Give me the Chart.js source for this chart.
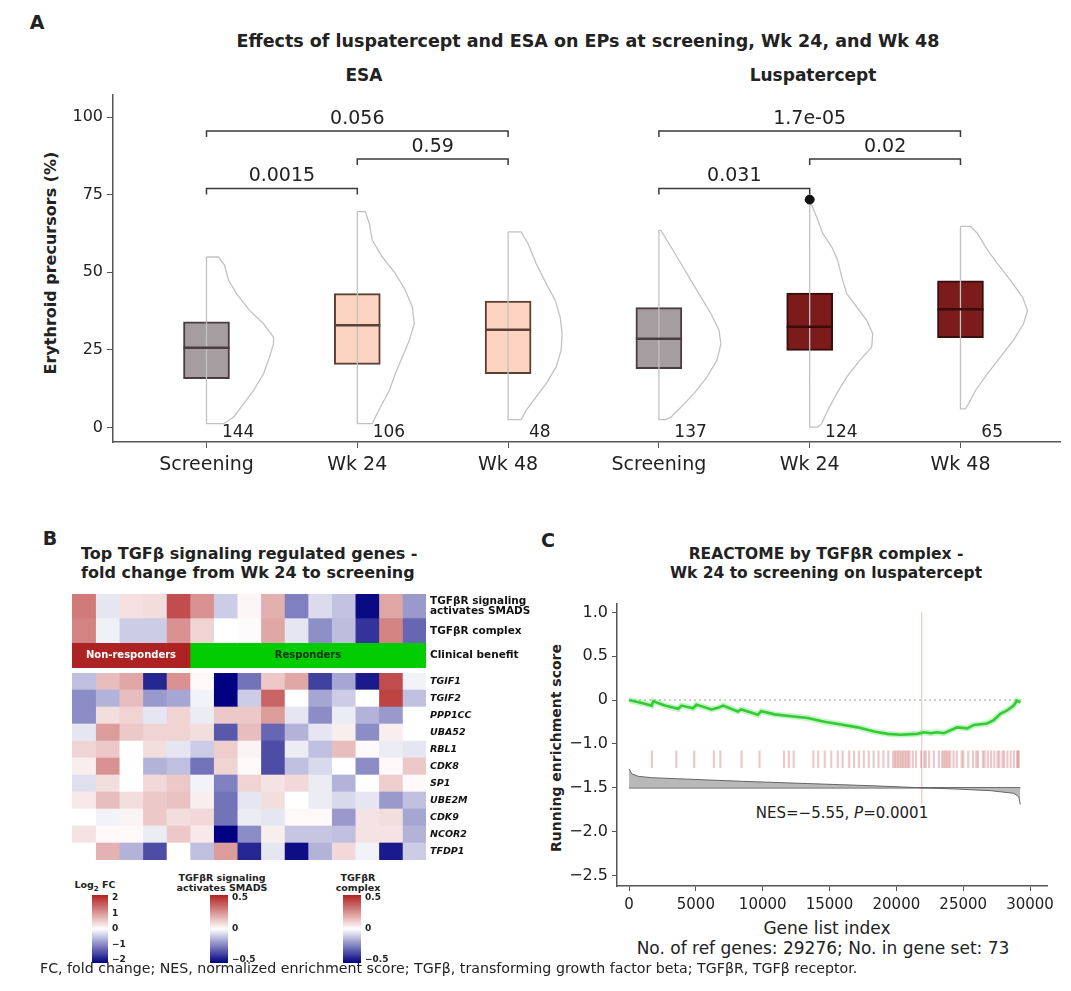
<!DOCTYPE html>
<html>
<head>
<meta charset="utf-8">
<script src="https://cdn.jsdelivr.net/npm/chart.js@4.4.1/dist/chart.umd.min.js"></script>
<style>
  body { margin: 0; background: #fff; width: 1071px; height: 991px; position: relative; overflow: hidden;
         font-family: "DejaVu Sans", sans-serif; color: #222; }
  canvas { position: absolute; }
  .t { position: absolute; white-space: nowrap; transform: translate(-50%, -50%); }
  .l { position: absolute; white-space: nowrap; }
  .b { font-weight: bold; }
</style>
</head>
<body>
<!-- panel A texts -->
<div class="t b" style="left:37px;top:22px;font-size:19px">A</div>
<div class="t b" style="left:588px;top:41px;font-size:17.5px">Effects of luspatercept and ESA on EPs at screening, Wk 24, and Wk 48</div>
<div class="t b" style="left:364px;top:75px;font-size:17px">ESA</div>
<div class="t b" style="left:813px;top:75px;font-size:17px">Luspatercept</div>
<div class="t b" style="left:50px;top:263px;font-size:16px;transform:translate(-50%,-50%) rotate(-90deg)">Erythroid precursors (%)</div>
<canvas id="chartA" width="1071" height="490" style="left:0;top:0"></canvas>

<!-- panel B texts -->
<div class="t b" style="left:50px;top:538px;font-size:19px">B</div>
<div class="l b" style="left:81px;top:544px;font-size:16px;line-height:19px">Top TGFβ signaling regulated genes -<br>fold change from Wk 24 to screening</div>
<canvas id="chartAnno" width="470" height="74" style="left:72px;top:594px"></canvas>
<canvas id="chartGenes" width="470" height="187" style="left:72px;top:673px"></canvas>
<div class="t b" style="left:95px;top:886px;font-size:9.5px">Log<sub style="font-size:7px">2</sub> FC</div>
<div class="t b" style="left:222px;top:882px;font-size:9.5px;line-height:9.5px;text-align:center">TGFβR signaling<br>activates SMADS</div>
<div class="t b" style="left:358px;top:882px;font-size:9.5px;line-height:9.5px;text-align:center">TGFβR<br>complex</div>
<canvas id="legFc" width="40" height="78" style="left:92px;top:890px"></canvas>
<canvas id="legSmads" width="50" height="78" style="left:210px;top:890px"></canvas>
<canvas id="legComplex" width="50" height="78" style="left:343px;top:890px"></canvas>

<!-- panel C texts -->
<div class="t b" style="left:548px;top:540px;font-size:19px">C</div>
<div class="t b" style="left:826px;top:564px;font-size:15.5px;line-height:19px;text-align:center">REACTOME by TGFβR complex -<br>Wk 24 to screening on luspatercept</div>
<div class="t b" style="left:556px;top:748px;font-size:14px;transform:translate(-50%,-50%) rotate(-90deg)">Running enrichment score</div>
<div class="t" style="left:842px;top:813px;font-size:15px">NES=−5.55, <i>P</i>=0.0001</div>
<div class="t" style="left:827px;top:928px;font-size:17px">Gene list index</div>
<div class="t" style="left:823px;top:948px;font-size:17px">No. of ref genes: 29276; No. in gene set: 73</div>
<canvas id="chartC" width="531" height="340" style="left:540px;top:590px"></canvas>

<div class="l" style="left:40px;top:960px;font-size:14.2px">FC, fold change; NES, normalized enrichment score; TGFβ, transforming growth factor beta; TGFβR, TGFβ receptor.</div>

<script>
// ---------- panel A data ----------
const timepoints = ['Screening', 'Wk 24', 'Wk 48', 'Screening', 'Wk 24', 'Wk 48'];
const q1 = [15.7, 20.3, 17.3, 18.9, 24.8, 28.9];
const medians = [25.7, 32.9, 31.5, 28.6, 32.4, 38.1];
const q3 = [34.0, 43.1, 40.7, 38.6, 43.3, 47.2];
const nPatients = [144, 106, 48, 137, 124, 65];
const outlierGroup = [4];
const outlierValue = [73.4];
const yTicksA = [0, 25, 50, 75, 100];

// half-violin outlines: value levels and relative density width
const violinLevels = [
  [54.9, 52.3, 47.4, 43.1, 37.7, 33.4, 29.1, 27.0, 22.7, 17.3, 11.9, 7.6, 3.3, 1.2],
  [69.5, 65.7, 60.3, 54.9, 49.6, 44.2, 38.8, 33.4, 28.1, 22.7, 17.3, 11.9, 6.5, 3.3, 1.2],
  [63.0, 59.2, 52.8, 46.4, 41.0, 35.6, 30.2, 24.8, 19.5, 14.1, 9.8, 5.5, 2.5],
  [63.5, 58.2, 52.8, 47.4, 42.0, 36.7, 31.3, 27.0, 21.6, 16.2, 10.9, 6.5, 3.3, 2.5],
  [71.6, 67.8, 62.5, 58.2, 53.9, 48.5, 43.1, 38.8, 34.5, 30.2, 25.9, 21.6, 16.2, 10.9, 5.5, 1.2, 0.1],
  [64.8, 62.5, 57.1, 52.8, 47.4, 42.0, 37.7, 33.4, 28.1, 22.7, 17.3, 11.9, 7.6, 6.0]
];
const violinDensity = [
  [0.12, 0.18, 0.22, 0.30, 0.43, 0.57, 0.67, 0.67, 0.63, 0.57, 0.47, 0.37, 0.27, 0.17],
  [0.08, 0.12, 0.15, 0.25, 0.38, 0.48, 0.55, 0.57, 0.52, 0.45, 0.38, 0.32, 0.23, 0.18, 0.15],
  [0.13, 0.20, 0.28, 0.38, 0.47, 0.52, 0.54, 0.53, 0.48, 0.38, 0.28, 0.18, 0.13],
  [0.02, 0.12, 0.22, 0.32, 0.42, 0.52, 0.60, 0.62, 0.58, 0.48, 0.35, 0.22, 0.12, 0.07],
  [0.02, 0.07, 0.13, 0.22, 0.28, 0.32, 0.37, 0.47, 0.57, 0.63, 0.62, 0.50, 0.37, 0.27, 0.18, 0.12, 0.08],
  [0.10, 0.17, 0.27, 0.37, 0.50, 0.62, 0.67, 0.63, 0.53, 0.40, 0.27, 0.15, 0.08, 0.05]
];

// pairwise comparisons
const pairs = [[0, 2], [1, 2], [0, 1], [3, 5], [4, 5], [3, 4]];
const pLabels = ['0.056', '0.59', '0.0015', '1.7e-05', '0.02', '0.031'];
const bracketLevel = [95.5, 86.5, 77, 95.5, 86.5, 77];

// ---------- panel B data ----------
const sampleGroup = ['NR', 'NR', 'NR', 'NR', 'NR', 'R', 'R', 'R', 'R', 'R', 'R', 'R', 'R', 'R', 'R'];
const groupNames = { NR: 'Non-responders', R: 'Responders' };
const annoRows = [['TGFβR signaling', 'activates SMADS'], 'TGFβR complex', 'Clinical benefit'];
const smadsScore = [0.30, -0.05, 0.07, 0.08, 0.40, 0.25, -0.10, 0.02, 0.18, -0.25, -0.07, -0.12, -0.48, 0.20, -0.20];
const complexScore = [0.28, -0.03, -0.10, -0.10, 0.25, 0.10, 0.00, 0.01, 0.20, -0.05, -0.22, -0.13, -0.40, 0.28, -0.30];

const genes = ['TGIF1', 'TGIF2', 'PPP1CC', 'UBA52', 'RBL1', 'CDK8', 'SP1', 'UBE2M', 'CDK9', 'NCOR2', 'TFDP1'];
const fcTGIF1  = [-0.5, 0.6, 0.8, -1.7, 1.0, 0.05, -2.0, -1.1, 0.5, 0.8, -1.5, -0.7, -1.8, 1.6, -0.1];
const fcTGIF2  = [-0.9, -0.6, 0.6, -0.8, -0.7, -0.1, -2.0, -0.4, 1.4, 0.0, -0.7, -0.4, 0.0, 1.7, -0.5];
const fcPPP1CC = [-0.9, 0.3, 0.4, -0.2, 0.4, -0.15, 0.5, 0.5, 0.9, -0.2, -0.9, -0.15, -0.6, -0.8, 0.0];
const fcUBA52  = [-0.2, 0.9, 0.5, 0.4, 0.4, 0.3, -1.3, 0.6, -1.2, -0.6, -0.2, 0.15, -0.9, 0.15, 0.0];
const fcRBL1   = [0.4, 0.5, 0.0, 0.3, -0.2, -0.4, 0.45, 0.1, -1.4, -0.15, -0.5, 0.6, 0.05, -0.15, -0.2];
const fcCDK8   = [0.15, 1.0, 0.0, -0.6, -0.5, -1.1, 0.4, 0.05, -1.4, -0.5, -0.3, 0.0, -0.9, 0.05, 0.5];
const fcSP1    = [-0.25, 0.3, 0.0, 0.35, 0.5, -0.1, -1.0, 0.4, 0.25, 0.35, -0.15, -0.6, 0.0, 0.45, 0.05];
const fcUBE2M  = [0.2, 0.6, 0.3, 0.5, 0.55, 0.15, -1.1, -0.2, 0.3, 0.0, -0.15, -0.3, -0.2, -0.8, -0.5];
const fcCDK9   = [0.0, -0.1, 0.1, 0.5, 0.3, 0.35, -1.1, -0.15, -0.2, 0.05, 0.05, -0.8, 0.25, 0.3, -0.7];
const fcNCOR2  = [0.25, 0.05, 0.05, -0.15, 0.5, 0.2, -2.0, -0.9, 0.15, -0.45, -0.45, -0.5, 0.25, 0.25, -0.6];
const fcTFDP1  = [0.0, 0.7, -0.6, -1.4, 0.0, -0.5, 0.9, -1.7, -0.2, -1.9, -0.6, 0.35, -0.1, -1.8, -0.4];
const geneFc = [fcTGIF1, fcTGIF2, fcPPP1CC, fcUBA52, fcRBL1, fcCDK8, fcSP1, fcUBE2M, fcCDK9, fcNCOR2, fcTFDP1];
const fcLegendTicks = [2, 1, 0, -1, -2];
const scoreLegendTicks = [0.5, 0, -0.5];

// ---------- panel C data ----------
const esIndex = [0, 944, 1690, 1814, 2684, 3678, 3926, 4796, 5045, 6163, 6660, 7033, 8151, 8399, 9642, 9890,
  10884, 12127, 13369, 14612, 15854, 17097, 18339, 19333, 20327, 21570, 22067, 22564, 23061, 23558, 24552,
  25297, 25794, 26788, 27285, 27782, 28279, 28776, 29025, 29274];
const esValue = [0, -0.033, -0.063, -0.015, -0.063, -0.10, -0.063, -0.093, -0.052, -0.107, -0.089, -0.063,
  -0.13, -0.107, -0.167, -0.126, -0.163, -0.185, -0.204, -0.248, -0.278, -0.311, -0.359, -0.385, -0.396,
  -0.385, -0.367, -0.378, -0.367, -0.378, -0.311, -0.322, -0.285, -0.267, -0.230, -0.156, -0.119, -0.063,
  -0.007, -0.026];
const hitIndex = [1708, 3538, 4880, 6344, 6832, 8418, 9760, 11590, 11956, 12322, 13786, 14152, 14640, 15128,
  15616, 15982, 16470, 16836, 17202, 17568, 17934, 18300, 18666, 19032, 19398, 19764, 19886, 20008, 20130,
  20252, 20374, 20496, 20618, 20740, 20862, 20984, 21228, 21472, 21838, 22082, 22204, 22448, 22814, 23180,
  23424, 23546, 23668, 23790, 23912, 24034, 24278, 24522, 24888, 25010, 25376, 25742, 25986, 26108, 26474,
  26596, 26840, 27084, 27328, 27572, 27694, 27938, 28060, 28304, 28548, 28792, 29036, 29097, 29158];
const rankIndex = [0, 199, 696, 1690, 3429, 8399, 13369, 18339, 21893, 24552, 27037, 28776, 29150, 29274];
const rankValue = [-0.785, -0.841, -0.870, -0.885, -0.896, -0.926, -0.952, -0.978, -1.0, -1.015, -1.033,
  -1.063, -1.10, -1.19];
const rankBaseline = -1.0;
const zeroCross = 21893;
const nGenes = 29276;
const xTicksC = [0, 5000, 10000, 15000, 20000, 25000, 30000];
// tick positions on the drawn axis and the labels printed at them
const yTickPosC = [1, 0.5, 0, -0.5, -1, -1.5, -2];
const yTickLabelC = ['1.0', '0.5', '0', '−1.0', '−1.5', '−2.0', '−2.5'];

// ---------- common ----------
Chart.defaults.font.family = '"DejaVu Sans", sans-serif';
Chart.defaults.color = '#222';
Chart.defaults.animation = false;
Chart.defaults.plugins.legend.display = false;
Chart.defaults.plugins.tooltip.enabled = false;

const minus = v => String(v).replace('-', '−');

function heatColor(t) {
  t = Math.max(-1, Math.min(1, t));
  const mid = [255, 255, 255];
  const end = t < 0 ? [0, 0, 128] : [178, 34, 34];
  const f = Math.abs(t);
  const c = mid.map((m, i) => Math.round(m + (end[i] - m) * f));
  return `rgb(${c[0]},${c[1]},${c[2]})`;
}

// ---------- panel A ----------
const boxFill = ['#a59d9f', '#fdd4c1', '#fdd4c1', '#a59d9f', '#7c1b1b', '#7c1b1b'];
const boxLine = ['#4a3d3f', '#5a4036', '#5a4036', '#4a3d3f', '#3a0c0c', '#3a0c0c'];
const pxPerUnit = 150.7;
const violinScale = 100 / pxPerUnit;

const violinSets = violinLevels.map((lv, g) => {
  const pts = [{ x: g, y: lv[0] }];
  lv.forEach((v, k) => pts.push({ x: g + violinDensity[g][k] * violinScale, y: v }));
  pts.push({ x: g, y: lv[lv.length - 1] });
  pts.push({ x: g, y: lv[0] });
  return {
    type: 'scatter', data: pts, showLine: true, pointRadius: 0,
    borderColor: '#c2c2c2', borderWidth: 1.3, order: 1
  };
});

const boxExtras = {
  id: 'boxExtras',
  afterDatasetsDraw(chart) {
    const { ctx, scales: { x, y } } = chart;
    ctx.save();
    medians.forEach((m, i) => {
      const px = x.getPixelForValue(i), py = y.getPixelForValue(m);
      ctx.strokeStyle = boxLine[i];
      ctx.lineWidth = 2.5;
      ctx.beginPath(); ctx.moveTo(px - 23, py); ctx.lineTo(px + 23, py); ctx.stroke();
    });
    ctx.strokeStyle = '#3a3a3a';
    ctx.lineWidth = 1.5;
    ctx.fillStyle = '#222';
    ctx.font = '19px "DejaVu Sans"';
    ctx.textAlign = 'center';
    ctx.textBaseline = 'alphabetic';
    pairs.forEach(([a, b], k) => {
      const x1 = x.getPixelForValue(a), x2 = x.getPixelForValue(b);
      const py = y.getPixelForValue(bracketLevel[k]);
      ctx.beginPath();
      ctx.moveTo(x1, py + 6); ctx.lineTo(x1, py); ctx.lineTo(x2, py); ctx.lineTo(x2, py + 6);
      ctx.stroke();
      ctx.fillText(pLabels[k], (x1 + x2) / 2, py - 7);
    });
    ctx.font = '17px "DejaVu Sans"';
    ctx.textBaseline = 'middle';
    nPatients.forEach((n, i) => {
      ctx.fillText(String(n), x.getPixelForValue(i + 0.21), y.getPixelForValue(-1.6));
    });
    ctx.restore();
  }
};

new Chart(document.getElementById('chartA'), {
  type: 'scatter',
  data: {
    datasets: [
      ...violinSets,
      {
        type: 'scatter',
        data: outlierGroup.map((g, i) => ({ x: g, y: outlierValue[i] })),
        pointRadius: 4.5, backgroundColor: '#111', borderColor: '#111', order: 0
      },
      {
        type: 'bar',
        data: timepoints.map((t, i) => ({ x: i, y: [q1[i], q3[i]] })),
        backgroundColor: boxFill, borderColor: boxLine, borderWidth: 2,
        borderSkipped: false, barThickness: 46, order: 2
      }
    ]
  },
  options: {
    responsive: false,
    layout: { padding: { top: 95, right: 11, left: 0, bottom: 0 } },
    scales: {
      x: {
        type: 'linear', min: -0.62, max: 5.66, offset: false,
        afterBuildTicks: s => { s.ticks = timepoints.map((t, i) => ({ value: i })); },
        afterFit: s => { s.height = 48; },
        ticks: { callback: (v) => timepoints[v], font: { size: 19 }, color: '#222', padding: 6, maxRotation: 0 },
        grid: { offset: false, drawOnChartArea: false, tickLength: 6, color: '#555' },
        border: { color: '#555', width: 1.5 }
      },
      y: {
        min: -4.7, max: 107.1,
        afterBuildTicks: s => { s.ticks = yTicksA.map(v => ({ value: v })); },
        afterFit: s => { s.width = 113; },
        ticks: { font: { size: 16 }, color: '#222', padding: 4 },
        grid: { drawOnChartArea: false, tickLength: 6, color: '#555' },
        border: { color: '#555', width: 1.5 }
      }
    }
  },
  plugins: [boxExtras]
});

// ---------- panel B ----------
const groupColor = { NR: '#ad2323', R: '#00cc00' };

const groupText = {
  id: 'groupText',
  afterDatasetsDraw(chart) {
    const { ctx, scales: { x, y } } = chart;
    const rowY = y.getPixelForValue(2);
    ctx.save();
    ctx.font = 'bold 10px "DejaVu Sans"';
    ctx.textAlign = 'center';
    ctx.textBaseline = 'middle';
    ['NR', 'R'].forEach(gk => {
      const first = sampleGroup.indexOf(gk), last = sampleGroup.lastIndexOf(gk);
      const cx = (x.getPixelForValue(first) + x.getPixelForValue(last + 1)) / 2;
      ctx.fillStyle = gk === 'NR' ? '#ffffff' : '#123312';
      ctx.fillText(groupNames[gk], cx, rowY);
    });
    ctx.restore();
  }
};

const heatOptions = (labelFont) => ({
  responsive: false,
  indexAxis: 'y',
  layout: { padding: 0 },
  datasets: { bar: { barPercentage: 1, categoryPercentage: 1, borderWidth: 0 } },
  scales: {
    x: { stacked: true, min: 0, max: sampleGroup.length, display: false },
    y: {
      stacked: true, position: 'right',
      afterFit: s => { s.width = 116; s.paddingTop = 0; s.paddingBottom = 0; },
      grid: { display: false, drawTicks: false }, border: { display: false },
      ticks: { font: labelFont, color: '#111', padding: 4, autoSkip: false }
    }
  }
});

new Chart(document.getElementById('chartAnno'), {
  type: 'bar',
  data: {
    labels: annoRows,
    datasets: sampleGroup.map((g, c) => ({
      data: [1, 1, 1],
      backgroundColor: [heatColor(smadsScore[c] / 0.5), heatColor(complexScore[c] / 0.5), groupColor[g]]
    }))
  },
  options: heatOptions({ size: 10.5, weight: 'bold', lineHeight: 0.95 }),
  plugins: [groupText]
});

new Chart(document.getElementById('chartGenes'), {
  type: 'bar',
  data: {
    labels: genes,
    datasets: sampleGroup.map((g, c) => ({
      data: genes.map(() => 1),
      backgroundColor: geneFc.map(row => heatColor(row[c] / 2))
    }))
  },
  options: heatOptions({ size: 9.5, weight: 'bold', style: 'italic' })
});

function colorBar(id, ticksArr) {
  const lim = Math.max(...ticksArr) * 1.095;
  new Chart(document.getElementById(id), {
    type: 'bar',
    data: {
      labels: ['key'],
      datasets: [{
        data: [[-lim, lim]],
        borderWidth: 0,
        backgroundColor: (c) => {
          const area = c.chart.chartArea;
          if (!area) return '#fff';
          const g = c.chart.ctx.createLinearGradient(0, area.bottom, 0, area.top);
          g.addColorStop(0, heatColor(-1));
          g.addColorStop(0.5, heatColor(0));
          g.addColorStop(1, heatColor(1));
          return g;
        }
      }]
    },
    options: {
      responsive: false,
      layout: { padding: { top: 5, bottom: 5 } },
      datasets: { bar: { barPercentage: 1, categoryPercentage: 1 } },
      scales: {
        x: { display: false },
        y: {
          position: 'right', min: -lim, max: lim,
          afterBuildTicks: s => { s.ticks = ticksArr.map(v => ({ value: v })); },
          afterFit: s => { s.width = id === 'legFc' ? 24 : 32; s.paddingTop = 0; s.paddingBottom = 0; },
          grid: { display: false, drawTicks: false }, border: { display: false },
          ticks: { font: { size: 9, weight: 'bold' }, color: '#222', padding: 4, callback: v => minus(v) }
        }
      }
    }
  });
}
colorBar('legFc', fcLegendTicks);
colorBar('legSmads', scoreLegendTicks);
colorBar('legComplex', scoreLegendTicks);

// ---------- panel C ----------
const esPoints = esIndex.map((v, i) => ({ x: v, y: esValue[i] }));

new Chart(document.getElementById('chartC'), {
  type: 'scatter',
  data: {
    datasets: [
      {
        data: esPoints,
        showLine: true, pointRadius: 0, borderColor: '#34cc34', borderWidth: 2.6, order: 0
      },
      {
        data: esPoints,
        showLine: true, pointRadius: 0, borderColor: 'rgba(90,220,90,0.35)', borderWidth: 6, order: 1
      },
      {
        data: [{ x: 0, y: 0 }, { x: nGenes, y: 0 }],
        showLine: true, pointRadius: 0, borderColor: '#9a9a9a', borderWidth: 1, borderDash: [2, 3], order: 3
      },
      {
        data: [{ x: zeroCross, y: 1 }, { x: zeroCross, y: Math.min(...rankValue) }],
        showLine: true, pointRadius: 0, borderColor: '#ecd0d0', borderWidth: 1, order: 4
      },
      {
        type: 'bar',
        data: hitIndex.map(v => ({ x: v, y: [-0.77, -0.58] })),
        backgroundColor: 'rgba(210,125,125,0.42)', barThickness: 1.5, order: 2
      },
      {
        data: rankIndex.map((v, i) => ({ x: v, y: rankValue[i] })),
        showLine: true, pointRadius: 0, borderColor: '#666', borderWidth: 1,
        backgroundColor: '#b8b8b8', fill: { value: rankBaseline }, order: 1
      },
      {
        data: [{ x: 0, y: rankBaseline }, { x: nGenes, y: rankBaseline }],
        showLine: true, pointRadius: 0, borderColor: '#555', borderWidth: 1.5, order: 1
      }
    ]
  },
  options: {
    responsive: false,
    layout: { padding: { top: 7, right: 24, left: 0, bottom: 0 } },
    scales: {
      x: {
        type: 'linear', min: -900, max: 31270, offset: false,
        afterBuildTicks: s => { s.ticks = xTicksC.map(v => ({ value: v })); },
        afterFit: s => { s.height = 44; },
        ticks: { callback: v => String(v), font: { size: 15 }, color: '#222', padding: 5, maxRotation: 0 },
        grid: { offset: false, drawOnChartArea: false, tickLength: 5, color: '#555' },
        border: { color: '#555', width: 1.5 }
      },
      y: {
        min: -2.12, max: 1.1,
        afterBuildTicks: s => { s.ticks = yTickPosC.slice().reverse().map(v => ({ value: v })); },
        afterFit: s => { s.width = 77; },
        ticks: { callback: v => yTickLabelC[yTickPosC.indexOf(v)], font: { size: 16 }, color: '#222', padding: 4 },
        grid: { drawOnChartArea: false, tickLength: 5, color: '#555' },
        border: { color: '#555', width: 1.5 }
      }
    }
  }
});
</script>
</body>
</html>
